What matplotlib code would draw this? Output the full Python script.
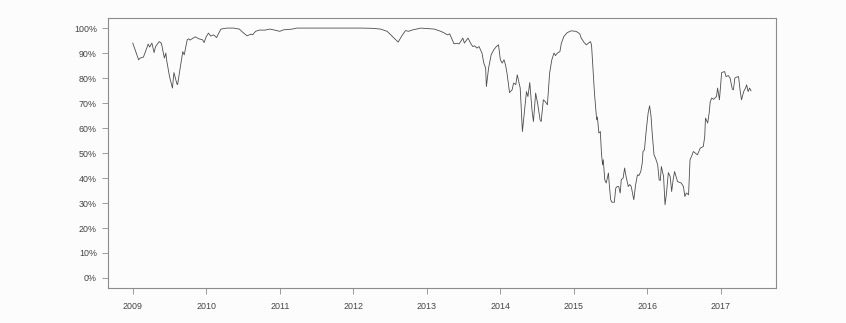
import matplotlib
matplotlib.use("Agg")
import matplotlib.pyplot as plt
from matplotlib.ticker import FuncFormatter
import numpy as np

# decimal year / percent
years = [
    2009.00, 2009.08, 2009.10, 2009.145, 2009.21, 2009.23, 2009.26, 2009.29, 2009.31, 2009.36,
    2009.39, 2009.43, 2009.45, 2009.46, 2009.50, 2009.54, 2009.56, 2009.60, 2009.61, 2009.645,
    2009.68, 2009.70, 2009.74, 2009.76, 2009.78, 2009.82, 2009.85, 2009.90, 2009.95, 2009.97,
    2010.00, 2010.03, 2010.06, 2010.10, 2010.14, 2010.17, 2010.20, 2010.28, 2010.37, 2010.45,
    2010.50, 2010.555, 2010.61, 2010.63, 2010.67, 2010.72, 2010.80, 2010.87, 2011.00, 2011.05,
    2011.17, 2011.23, 2011.5, 2011.8, 2012.1, 2012.26, 2012.37, 2012.46, 2012.53, 2012.61,
    2012.66, 2012.71, 2012.75, 2012.81, 2012.92, 2013.10, 2013.19, 2013.24, 2013.28, 2013.31,
    2013.37, 2013.40, 2013.44, 2013.49, 2013.51, 2013.56, 2013.60, 2013.625, 2013.65, 2013.68,
    2013.71, 2013.75, 2013.775, 2013.80, 2013.81, 2013.84, 2013.875, 2013.91, 2013.945, 2013.975,
    2014.00, 2014.025, 2014.05, 2014.07, 2014.09, 2014.125, 2014.16, 2014.18, 2014.21, 2014.23,
    2014.25, 2014.27, 2014.30, 2014.33, 2014.355, 2014.375, 2014.40, 2014.43, 2014.45, 2014.48,
    2014.51, 2014.54, 2014.555, 2014.585, 2014.61, 2014.64, 2014.67, 2014.70, 2014.73, 2014.75,
    2014.775, 2014.81, 2014.83, 2014.865, 2014.91, 2014.965, 2015.03, 2015.08, 2015.10, 2015.14,
    2015.17, 2015.20, 2015.225, 2015.24, 2015.26, 2015.28, 2015.31, 2015.32, 2015.34, 2015.36,
    2015.375, 2015.39, 2015.40, 2015.42, 2015.44, 2015.47, 2015.48, 2015.50, 2015.52, 2015.55,
    2015.57, 2015.59, 2015.61, 2015.63, 2015.645, 2015.67, 2015.69, 2015.71, 2015.74, 2015.76,
    2015.78, 2015.815, 2015.84, 2015.865, 2015.885, 2015.91, 2015.93, 2015.94, 2015.96, 2015.985,
    2016.01, 2016.03, 2016.05, 2016.065, 2016.09, 2016.11, 2016.14, 2016.16, 2016.175, 2016.19,
    2016.22, 2016.24, 2016.26, 2016.285, 2016.31, 2016.33, 2016.35, 2016.37, 2016.39, 2016.41,
    2016.44, 2016.46, 2016.49, 2016.51, 2016.53, 2016.56, 2016.58, 2016.60, 2016.625, 2016.65,
    2016.68, 2016.72, 2016.76, 2016.78, 2016.79, 2016.82, 2016.84, 2016.855, 2016.875, 2016.90,
    2016.94, 2016.955, 2016.98, 2017.01, 2017.05, 2017.07, 2017.10, 2017.125, 2017.155, 2017.17,
    2017.19, 2017.215, 2017.24, 2017.26, 2017.28, 2017.31, 2017.335, 2017.35, 2017.37, 2017.39,
    2017.41,
]
share = [
    94.0, 87.3, 88.0, 88.4, 93.6, 92.4, 94.0, 90.2, 92.6, 94.6,
    93.9, 88.0, 90.0, 87.3, 80.6, 76.0, 82.2, 77.7, 77.4, 84.0,
    90.6, 89.3, 95.3, 95.7, 95.2, 96.0, 96.5, 95.7, 95.3, 94.2,
    96.6, 98.0, 96.8, 97.3, 96.2, 98.0, 99.6, 100.0, 100.0, 99.6,
    98.2, 96.9, 97.6, 97.3, 98.7, 99.2, 99.2, 99.6, 98.7, 99.3,
    99.6, 100.0, 100.0, 100.0, 100.0, 99.9, 99.6, 98.7, 96.7, 94.4,
    96.9, 99.0, 98.7, 99.3, 100.0, 99.6, 98.7, 98.0, 97.3, 97.7,
    93.7, 93.9, 93.7, 96.0, 94.0, 96.0, 93.7, 92.6, 92.9, 92.0,
    92.6, 90.0, 86.0, 84.0, 76.6, 84.0, 89.3, 91.3, 92.6, 93.3,
    87.3, 86.0, 87.3, 85.3, 82.0, 74.2, 75.3, 78.0, 77.4, 81.3,
    78.6, 76.0, 58.6, 67.3, 74.6, 72.6, 78.2, 67.3, 62.6, 74.0,
    69.3, 63.3, 62.6, 71.3, 70.6, 69.3, 82.0, 87.3, 90.0, 89.0,
    90.0, 90.6, 94.0, 96.7, 98.2, 98.9, 98.7, 97.7, 96.0, 94.2,
    93.3, 94.0, 94.6, 93.3, 83.3, 74.0, 63.3, 64.4, 58.0, 58.6,
    50.0, 45.3, 47.3, 39.3, 38.0, 42.0, 38.0, 31.3, 30.3, 30.3,
    36.0, 36.6, 36.6, 34.0, 39.3, 40.0, 44.0, 40.6, 36.6, 37.4,
    36.6, 31.3, 37.3, 41.3, 41.0, 42.6, 46.0, 50.6, 51.3, 59.3,
    66.0, 68.9, 64.6, 58.0, 49.3, 48.0, 45.3, 39.3, 39.0, 44.6,
    40.6, 29.3, 34.0, 42.2, 40.6, 34.6, 39.3, 42.6, 40.6, 38.6,
    38.2, 38.0, 36.6, 32.6, 34.0, 33.3, 47.3, 48.6, 50.6, 50.0,
    49.3, 52.0, 52.6, 56.6, 64.0, 62.0, 66.0, 70.6, 72.0, 71.5,
    72.6, 76.0, 71.3, 82.2, 82.6, 80.6, 81.0, 80.0, 75.6, 75.3,
    80.0, 80.4, 80.6, 75.3, 71.3, 74.6, 76.0, 77.3, 74.6, 76.0,
    74.9,
]
year_ticks = list(range(2009, 2018))
pct_ticks = list(range(0, 101, 10))

bg = "#fcfcfc"
fig = plt.figure(figsize=(8.46, 3.23), dpi=100, facecolor=bg)
ax = fig.add_axes([0.1277, 0.1084, 0.7893, 0.8356], facecolor=bg)

ax.plot(years, share, color="#4d4d4d", lw=0.6)

# R style 4% padding
span = max(years) - min(years)
ax.set_xlim(min(years) - 0.04 * span, max(years) + 0.04 * span)
ax.set_ylim(-4, 104)
ax.set_xticks(year_ticks)
ax.set_yticks(pct_ticks)
ax.yaxis.set_major_formatter(FuncFormatter(lambda v, p: f"{v:.0f}%"))

for s in ax.spines.values():
    s.set_color("#8c8c8c")
    s.set_linewidth(0.8)
ax.tick_params(length=4, width=0.6, color="#8c8c8c", labelsize=6.4,
               labelcolor="#444444")
ax.tick_params(axis="y", pad=4)
ax.tick_params(axis="x", pad=6)
for lab in ax.get_xticklabels() + ax.get_yticklabels():
    lab.set_family(["Liberation Sans", "DejaVu Sans"])

fig.savefig("out.png", dpi=100, facecolor=bg)
